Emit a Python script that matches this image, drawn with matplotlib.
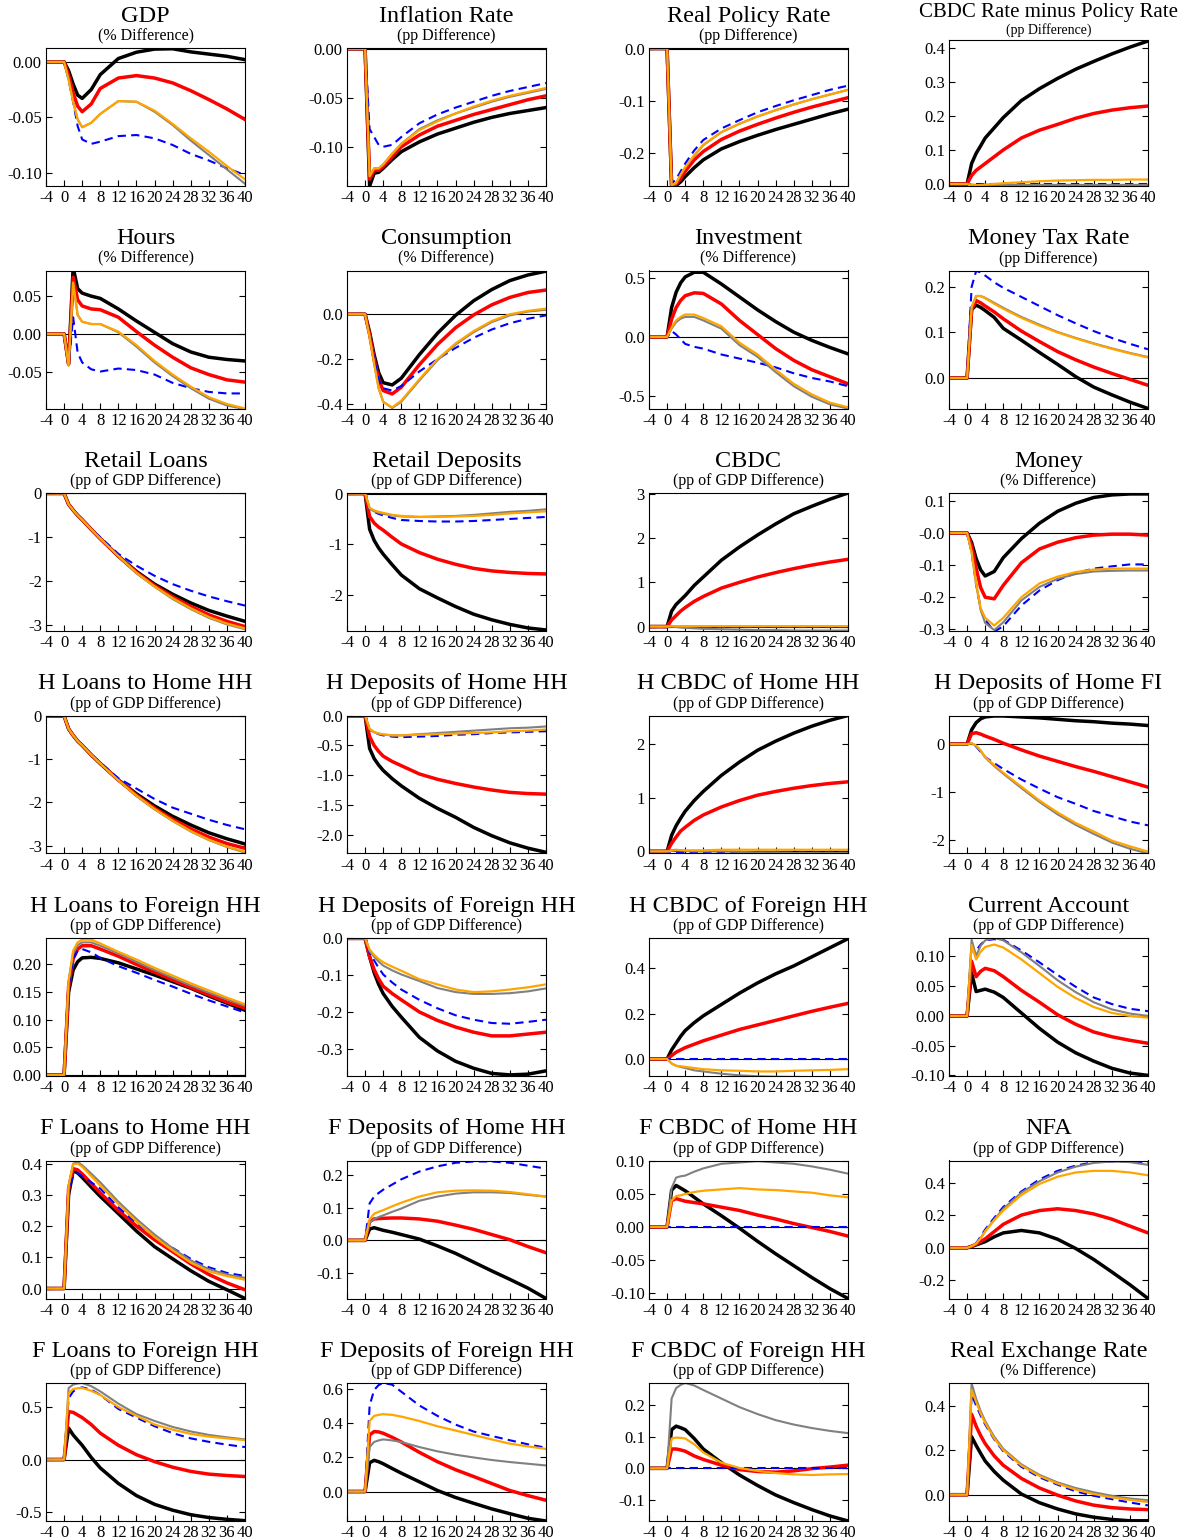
import matplotlib
matplotlib.use('Agg')
import matplotlib.pyplot as plt

plt.rcParams['font.family'] = ['Liberation Serif', 'DejaVu Serif']

quarters = [-4, 0, 1, 2, 3, 4, 6, 8, 12, 16, 20, 24, 28, 32, 36, 40]

# each panel: black, red, blue (dashed), gray, orange
gdp = [
    [0, 0, -0.008, -0.020, -0.030, -0.033, -0.025, -0.0115, 0.003, 0.0087, 0.0115, 0.0118, 0.009, 0.007, 0.005, 0.002],
    [0, 0, -0.012, -0.028, -0.040, -0.045, -0.038, -0.024, -0.0146, -0.0124, -0.0146, -0.019, -0.026, -0.034, -0.0425, -0.052],
    [0, 0, -0.016, -0.036, -0.058, -0.070, -0.074, -0.072, -0.067, -0.066, -0.069, -0.075, -0.083, -0.089, -0.096, -0.102],
    [0, 0, -0.016, -0.036, -0.052, -0.059, -0.055, -0.047, -0.0354, -0.036, -0.045, -0.057, -0.071, -0.084, -0.097, -0.110],
    [0, 0, -0.016, -0.036, -0.052, -0.059, -0.055, -0.047, -0.0354, -0.036, -0.044, -0.056, -0.069, -0.081, -0.094, -0.106],
]
inflation = [
    [0, 0, -0.140, -0.127, -0.126, -0.122, -0.113, -0.105, -0.095, -0.087, -0.081, -0.075, -0.070, -0.066, -0.063, -0.060],
    [0, 0, -0.133, -0.124, -0.124, -0.120, -0.110, -0.100, -0.088, -0.079, -0.073, -0.067, -0.062, -0.057, -0.052, -0.048],
    [0, 0, -0.082, -0.090, -0.098, -0.100, -0.098, -0.090, -0.076, -0.067, -0.060, -0.054, -0.048, -0.043, -0.039, -0.035],
    [0, 0, -0.130, -0.122, -0.122, -0.118, -0.107, -0.097, -0.082, -0.073, -0.066, -0.060, -0.054, -0.049, -0.045, -0.041],
    [0, 0, -0.130, -0.122, -0.122, -0.118, -0.107, -0.097, -0.083, -0.074, -0.066, -0.059, -0.053, -0.048, -0.044, -0.040],
]
real_policy = [
    [0, 0, -0.262, -0.262, -0.255, -0.245, -0.228, -0.213, -0.192, -0.178, -0.166, -0.155, -0.145, -0.135, -0.125, -0.116],
    [0, 0, -0.262, -0.260, -0.248, -0.235, -0.213, -0.197, -0.174, -0.158, -0.145, -0.133, -0.122, -0.112, -0.103, -0.094],
    [0, 0, -0.258, -0.250, -0.235, -0.220, -0.195, -0.175, -0.153, -0.137, -0.122, -0.110, -0.099, -0.089, -0.079, -0.071],
    [0, 0, -0.262, -0.258, -0.242, -0.228, -0.205, -0.185, -0.160, -0.144, -0.130, -0.118, -0.107, -0.097, -0.088, -0.079],
    [0, 0, -0.262, -0.257, -0.241, -0.227, -0.204, -0.184, -0.160, -0.144, -0.130, -0.118, -0.107, -0.097, -0.088, -0.079],
]
cbdc_spread = [
    [0, 0, 0.060, 0.090, 0.112, 0.135, 0.165, 0.195, 0.245, 0.280, 0.310, 0.337, 0.360, 0.382, 0.402, 0.420],
    [0, 0, 0.025, 0.040, 0.050, 0.060, 0.080, 0.100, 0.135, 0.158, 0.175, 0.193, 0.207, 0.217, 0.224, 0.229],
    [0, 0, 0, 0, 0, 0, 0, 0, 0, 0, 0, 0, 0, 0, 0, 0],
    [0, 0, -0.002, -0.003, -0.003, -0.003, -0.003, -0.003, -0.003, -0.003, -0.003, -0.003, -0.003, -0.003, -0.003, -0.003],
    [0, 0, -0.003, -0.004, -0.003, -0.002, 0.000, 0.002, 0.005, 0.008, 0.010, 0.011, 0.012, 0.012, 0.013, 0.013],
]
hours = [
    [0, 0, -0.040, 0.088, 0.060, 0.054, 0.050, 0.047, 0.033, 0.017, 0.002, -0.013, -0.024, -0.031, -0.034, -0.036],
    [0, 0, -0.040, 0.075, 0.045, 0.037, 0.033, 0.032, 0.022, 0.003, -0.015, -0.031, -0.045, -0.054, -0.061, -0.064],
    [0, 0, -0.040, 0.022, -0.025, -0.038, -0.047, -0.050, -0.046, -0.048, -0.054, -0.065, -0.072, -0.077, -0.079, -0.079],
    [0, 0, -0.042, 0.068, 0.025, 0.016, 0.013, 0.013, 0.002, -0.017, -0.038, -0.056, -0.072, -0.086, -0.095, -0.100],
    [0, 0, -0.042, 0.068, 0.025, 0.016, 0.013, 0.013, 0.003, -0.015, -0.036, -0.054, -0.070, -0.084, -0.093, -0.099],
]
consumption = [
    [0, 0, -0.080, -0.180, -0.260, -0.305, -0.315, -0.285, -0.180, -0.085, -0.005, 0.060, 0.110, 0.150, 0.175, 0.192],
    [0, 0, -0.090, -0.200, -0.290, -0.340, -0.355, -0.325, -0.225, -0.135, -0.060, -0.003, 0.042, 0.075, 0.097, 0.108],
    [0, 0, -0.090, -0.200, -0.290, -0.330, -0.340, -0.320, -0.255, -0.200, -0.150, -0.105, -0.068, -0.040, -0.020, -0.005],
    [0, 0, -0.100, -0.220, -0.330, -0.390, -0.418, -0.390, -0.295, -0.205, -0.135, -0.080, -0.035, -0.005, 0.012, 0.020],
    [0, 0, -0.100, -0.220, -0.330, -0.390, -0.415, -0.385, -0.290, -0.200, -0.130, -0.075, -0.030, 0.000, 0.015, 0.025],
]
investment = [
    [0, 0, 0.250, 0.380, 0.460, 0.510, 0.550, 0.550, 0.450, 0.340, 0.230, 0.130, 0.040, -0.030, -0.090, -0.145],
    [0, 0, 0.150, 0.250, 0.310, 0.350, 0.375, 0.370, 0.280, 0.140, 0.020, -0.100, -0.200, -0.280, -0.340, -0.400],
    [0, 0, 0.050, 0.020, -0.020, -0.060, -0.085, -0.100, -0.150, -0.185, -0.220, -0.260, -0.310, -0.350, -0.380, -0.420],
    [0, 0, 0.070, 0.125, 0.155, 0.170, 0.170, 0.140, 0.070, -0.070, -0.170, -0.300, -0.420, -0.510, -0.575, -0.610],
    [0, 0, 0.080, 0.140, 0.170, 0.190, 0.190, 0.160, 0.090, -0.050, -0.150, -0.280, -0.400, -0.490, -0.560, -0.600],
]
money_tax = [
    [0, 0, 0.150, 0.160, 0.155, 0.148, 0.133, 0.109, 0.083, 0.056, 0.030, 0.003, -0.020, -0.037, -0.053, -0.067],
    [0, 0, 0.150, 0.170, 0.165, 0.158, 0.145, 0.130, 0.103, 0.080, 0.058, 0.040, 0.024, 0.010, -0.003, -0.016],
    [0, 0, 0.200, 0.235, 0.232, 0.225, 0.210, 0.198, 0.178, 0.158, 0.138, 0.120, 0.103, 0.088, 0.075, 0.063],
    [0, 0, 0.155, 0.180, 0.180, 0.176, 0.165, 0.154, 0.134, 0.117, 0.101, 0.088, 0.076, 0.065, 0.055, 0.046],
    [0, 0, 0.155, 0.180, 0.180, 0.175, 0.163, 0.152, 0.132, 0.115, 0.100, 0.087, 0.075, 0.064, 0.054, 0.045],
]
retail_loans = [
    [0, 0, -0.25, -0.38, -0.50, -0.60, -0.82, -1.03, -1.43, -1.78, -2.07, -2.30, -2.50, -2.67, -2.80, -2.92],
    [0, 0, -0.25, -0.38, -0.50, -0.60, -0.82, -1.03, -1.43, -1.80, -2.10, -2.36, -2.58, -2.77, -2.92, -3.04],
    [0, 0, -0.25, -0.38, -0.50, -0.60, -0.82, -1.00, -1.38, -1.65, -1.88, -2.07, -2.22, -2.35, -2.46, -2.56],
    [0, 0, -0.25, -0.38, -0.50, -0.60, -0.82, -1.03, -1.43, -1.82, -2.13, -2.41, -2.64, -2.84, -2.99, -3.10],
    [0, 0, -0.25, -0.38, -0.50, -0.60, -0.82, -1.03, -1.43, -1.81, -2.12, -2.39, -2.62, -2.82, -2.97, -3.08],
]
retail_deposits = [
    [0, 0, -0.70, -0.92, -1.07, -1.19, -1.40, -1.60, -1.87, -2.05, -2.22, -2.37, -2.48, -2.57, -2.64, -2.68],
    [0, 0, -0.45, -0.58, -0.66, -0.72, -0.86, -0.99, -1.16, -1.29, -1.39, -1.47, -1.52, -1.55, -1.57, -1.58],
    [0, 0, -0.30, -0.36, -0.40, -0.43, -0.48, -0.52, -0.54, -0.55, -0.55, -0.54, -0.52, -0.50, -0.48, -0.46],
    [0, 0, -0.30, -0.35, -0.38, -0.40, -0.43, -0.45, -0.46, -0.45, -0.44, -0.42, -0.39, -0.36, -0.34, -0.31],
    [0, 0, -0.28, -0.33, -0.36, -0.38, -0.42, -0.44, -0.46, -0.46, -0.45, -0.44, -0.42, -0.39, -0.37, -0.35],
]
cbdc = [
    [0, 0, 0.35, 0.50, 0.60, 0.70, 0.93, 1.12, 1.50, 1.80, 2.07, 2.32, 2.55, 2.72, 2.88, 3.02],
    [0, 0, 0.15, 0.25, 0.35, 0.43, 0.57, 0.68, 0.87, 1.00, 1.12, 1.22, 1.31, 1.39, 1.46, 1.52],
    [0, 0, 0, 0, 0, 0, 0, 0, 0, 0, 0, 0, 0, 0, 0, 0],
    [0, 0, 0.00, -0.01, -0.02, -0.03, -0.04, -0.05, -0.06, -0.07, -0.08, -0.08, -0.09, -0.09, -0.09, -0.09],
    [0, 0, 0.01, 0.01, 0.01, 0.01, 0.01, 0.01, 0.01, 0.01, 0.01, 0.01, 0.01, 0.01, 0.01, 0.01],
]
money = [
    [0, 0, -0.030, -0.080, -0.115, -0.134, -0.120, -0.077, -0.018, 0.030, 0.067, 0.092, 0.110, 0.118, 0.121, 0.121],
    [0, 0, -0.040, -0.110, -0.170, -0.200, -0.205, -0.163, -0.093, -0.050, -0.029, -0.015, -0.007, -0.004, -0.004, -0.007],
    [0, 0, -0.060, -0.160, -0.235, -0.270, -0.307, -0.290, -0.226, -0.179, -0.147, -0.125, -0.111, -0.104, -0.098, -0.098],
    [0, 0, -0.060, -0.160, -0.240, -0.280, -0.302, -0.278, -0.210, -0.168, -0.143, -0.128, -0.120, -0.118, -0.117, -0.117],
    [0, 0, -0.060, -0.155, -0.235, -0.264, -0.288, -0.264, -0.200, -0.157, -0.136, -0.122, -0.114, -0.111, -0.111, -0.111],
]
h_loans_home = [
    [0, 0, -0.30, -0.45, -0.58, -0.68, -0.90, -1.10, -1.48, -1.80, -2.08, -2.32, -2.52, -2.70, -2.84, -2.96],
    [0, 0, -0.30, -0.45, -0.58, -0.68, -0.90, -1.10, -1.48, -1.83, -2.13, -2.39, -2.61, -2.80, -2.95, -3.06],
    [0, 0, -0.30, -0.45, -0.58, -0.68, -0.90, -1.08, -1.44, -1.68, -1.92, -2.12, -2.26, -2.40, -2.52, -2.62],
    [0, 0, -0.30, -0.45, -0.58, -0.68, -0.90, -1.10, -1.49, -1.85, -2.16, -2.43, -2.67, -2.87, -3.03, -3.16],
    [0, 0, -0.30, -0.45, -0.58, -0.68, -0.90, -1.10, -1.49, -1.84, -2.15, -2.42, -2.66, -2.86, -3.02, -3.14],
]
h_dep_home = [
    [0, 0, -0.55, -0.72, -0.83, -0.92, -1.06, -1.18, -1.39, -1.56, -1.71, -1.88, -2.02, -2.14, -2.23, -2.30],
    [0, 0, -0.35, -0.50, -0.60, -0.68, -0.77, -0.84, -0.98, -1.07, -1.14, -1.20, -1.25, -1.29, -1.31, -1.32],
    [0, 0, -0.23, -0.28, -0.31, -0.33, -0.35, -0.36, -0.35, -0.34, -0.32, -0.31, -0.29, -0.28, -0.27, -0.26],
    [0, 0, -0.23, -0.28, -0.30, -0.32, -0.33, -0.33, -0.31, -0.29, -0.27, -0.25, -0.23, -0.21, -0.20, -0.18],
    [0, 0, -0.22, -0.27, -0.30, -0.31, -0.33, -0.33, -0.32, -0.31, -0.30, -0.29, -0.28, -0.26, -0.25, -0.23],
]
h_cbdc_home = [
    [0, 0, 0.30, 0.48, 0.62, 0.75, 0.95, 1.12, 1.42, 1.67, 1.89, 2.06, 2.21, 2.34, 2.45, 2.54],
    [0, 0, 0.15, 0.27, 0.38, 0.45, 0.58, 0.68, 0.83, 0.95, 1.05, 1.12, 1.18, 1.23, 1.27, 1.30],
    [0, 0, -0.01, -0.01, -0.01, -0.01, -0.01, -0.01, -0.01, -0.01, -0.01, -0.01, -0.01, -0.01, -0.01, -0.01],
    [0, 0, 0.02, 0.03, 0.02, 0.01, 0.00, 0.00, 0.00, -0.01, -0.02, -0.02, -0.03, -0.03, -0.03, -0.03],
    [0, 0, 0.01, 0.02, 0.02, 0.02, 0.02, 0.02, 0.03, 0.03, 0.03, 0.03, 0.03, 0.03, 0.03, 0.03],
]
h_dep_fi = [
    [0, 0, 0.30, 0.45, 0.53, 0.57, 0.59, 0.59, 0.57, 0.55, 0.52, 0.49, 0.47, 0.44, 0.42, 0.39],
    [0, 0, 0.22, 0.24, 0.21, 0.17, 0.10, 0.02, -0.12, -0.25, -0.36, -0.47, -0.57, -0.68, -0.79, -0.90],
    [0, 0, 0.02, -0.05, -0.16, -0.27, -0.40, -0.52, -0.74, -0.93, -1.11, -1.25, -1.40, -1.51, -1.62, -1.70],
    [0, 0, 0.02, -0.04, -0.14, -0.28, -0.46, -0.62, -0.92, -1.21, -1.47, -1.69, -1.88, -2.06, -2.19, -2.29],
    [0, 0, 0.02, -0.03, -0.13, -0.27, -0.44, -0.60, -0.89, -1.18, -1.43, -1.65, -1.83, -2.02, -2.14, -2.25],
]
h_loans_foreign = [
    [0, 0, 0.150, 0.190, 0.205, 0.212, 0.213, 0.211, 0.203, 0.192, 0.181, 0.169, 0.157, 0.143, 0.130, 0.117],
    [0, 0, 0.160, 0.210, 0.228, 0.234, 0.234, 0.228, 0.215, 0.200, 0.186, 0.172, 0.158, 0.145, 0.132, 0.121],
    [0, 0, 0.160, 0.210, 0.225, 0.228, 0.222, 0.212, 0.197, 0.185, 0.172, 0.160, 0.147, 0.135, 0.124, 0.113],
    [0, 0, 0.170, 0.220, 0.235, 0.240, 0.240, 0.234, 0.220, 0.205, 0.190, 0.176, 0.162, 0.149, 0.137, 0.125],
    [0, 0, 0.170, 0.225, 0.240, 0.245, 0.245, 0.238, 0.223, 0.209, 0.194, 0.180, 0.166, 0.153, 0.140, 0.128],
]
h_dep_foreign = [
    [0, 0, -0.050, -0.093, -0.125, -0.150, -0.185, -0.214, -0.269, -0.306, -0.334, -0.353, -0.367, -0.371, -0.369, -0.360],
    [0, 0, -0.050, -0.085, -0.110, -0.130, -0.150, -0.167, -0.200, -0.223, -0.241, -0.255, -0.265, -0.265, -0.260, -0.255],
    [0, 0, -0.040, -0.060, -0.080, -0.098, -0.120, -0.139, -0.167, -0.190, -0.209, -0.221, -0.230, -0.232, -0.227, -0.221],
    [0, 0, -0.035, -0.050, -0.063, -0.074, -0.087, -0.098, -0.116, -0.135, -0.146, -0.151, -0.151, -0.149, -0.144, -0.136],
    [0, 0, -0.030, -0.045, -0.056, -0.065, -0.077, -0.088, -0.111, -0.125, -0.139, -0.146, -0.144, -0.139, -0.133, -0.125],
]
h_cbdc_foreign = [
    [0, 0, 0.040, 0.070, 0.100, 0.125, 0.160, 0.190, 0.240, 0.290, 0.335, 0.375, 0.410, 0.450, 0.490, 0.530],
    [0, 0, 0.015, 0.030, 0.040, 0.050, 0.065, 0.080, 0.105, 0.130, 0.150, 0.170, 0.190, 0.210, 0.228, 0.245],
    [0, 0, 0, 0, 0, 0, 0, 0, 0, 0, 0, 0, 0, 0, 0, 0],
    [0, 0, -0.020, -0.030, -0.035, -0.040, -0.050, -0.055, -0.065, -0.072, -0.076, -0.078, -0.079, -0.080, -0.080, -0.080],
    [0, 0, -0.020, -0.030, -0.032, -0.035, -0.040, -0.045, -0.050, -0.052, -0.055, -0.055, -0.052, -0.050, -0.048, -0.045],
]
current_account = [
    [0, 0, 0.072, 0.041, 0.043, 0.045, 0.040, 0.031, 0.005, -0.021, -0.044, -0.062, -0.076, -0.088, -0.096, -0.100],
    [0, 0, 0.092, 0.066, 0.075, 0.080, 0.076, 0.066, 0.043, 0.023, 0.002, -0.014, -0.027, -0.035, -0.041, -0.046],
    [0, 0, 0.115, 0.110, 0.120, 0.127, 0.129, 0.128, 0.110, 0.090, 0.069, 0.049, 0.031, 0.020, 0.012, 0.008],
    [0, 0, 0.128, 0.101, 0.118, 0.127, 0.131, 0.127, 0.107, 0.084, 0.060, 0.040, 0.023, 0.011, 0.004, 0.000],
    [0, 0, 0.119, 0.095, 0.108, 0.116, 0.120, 0.115, 0.095, 0.072, 0.049, 0.030, 0.015, 0.005, 0.000, -0.003],
]
f_loans_home = [
    [0, 0, 0.300, 0.378, 0.370, 0.356, 0.325, 0.295, 0.240, 0.184, 0.134, 0.095, 0.057, 0.023, -0.004, -0.032],
    [0, 0, 0.320, 0.384, 0.380, 0.367, 0.337, 0.306, 0.250, 0.200, 0.156, 0.118, 0.079, 0.045, 0.018, -0.004],
    [0, 0, 0.310, 0.360, 0.370, 0.360, 0.340, 0.320, 0.260, 0.210, 0.167, 0.130, 0.095, 0.068, 0.050, 0.040],
    [0, 0, 0.330, 0.400, 0.405, 0.395, 0.368, 0.340, 0.278, 0.223, 0.173, 0.129, 0.090, 0.062, 0.045, 0.034],
    [0, 0, 0.330, 0.398, 0.400, 0.390, 0.360, 0.330, 0.270, 0.215, 0.165, 0.122, 0.083, 0.055, 0.040, 0.028],
]
f_dep_home = [
    [0, 0, 0.035, 0.039, 0.035, 0.031, 0.025, 0.018, 0.004, -0.017, -0.040, -0.067, -0.094, -0.120, -0.147, -0.179],
    [0, 0, 0.058, 0.066, 0.067, 0.068, 0.069, 0.069, 0.066, 0.059, 0.047, 0.034, 0.018, 0.002, -0.019, -0.038],
    [0, 0, 0.114, 0.135, 0.146, 0.156, 0.172, 0.188, 0.212, 0.228, 0.239, 0.243, 0.243, 0.239, 0.230, 0.221],
    [0, 0, 0.055, 0.066, 0.072, 0.077, 0.088, 0.098, 0.122, 0.135, 0.144, 0.148, 0.148, 0.146, 0.140, 0.135],
    [0, 0, 0.065, 0.082, 0.088, 0.093, 0.105, 0.116, 0.135, 0.148, 0.153, 0.154, 0.153, 0.149, 0.142, 0.135],
]
f_cbdc_home = [
    [0, 0, 0.056, 0.063, 0.059, 0.055, 0.045, 0.035, 0.017, -0.002, -0.022, -0.041, -0.059, -0.077, -0.094, -0.109],
    [0, 0, 0.040, 0.043, 0.041, 0.039, 0.037, 0.035, 0.030, 0.025, 0.018, 0.012, 0.005, -0.001, -0.007, -0.014],
    [0, 0, 0, 0, 0, 0, 0, 0, 0, 0, 0, 0, 0, 0, 0, 0],
    [0, 0, 0.059, 0.075, 0.077, 0.078, 0.084, 0.089, 0.096, 0.098, 0.100, 0.098, 0.096, 0.092, 0.087, 0.081],
    [0, 0, 0.040, 0.047, 0.048, 0.050, 0.053, 0.055, 0.057, 0.059, 0.057, 0.056, 0.054, 0.052, 0.048, 0.045],
]
nfa = [
    [0, 0, 0.008, 0.018, 0.028, 0.038, 0.068, 0.092, 0.107, 0.092, 0.053, -0.004, -0.072, -0.149, -0.228, -0.313],
    [0, 0, 0.010, 0.022, 0.038, 0.055, 0.100, 0.145, 0.202, 0.230, 0.241, 0.230, 0.209, 0.177, 0.134, 0.092],
    [0, 0, 0.010, 0.028, 0.070, 0.113, 0.185, 0.252, 0.348, 0.422, 0.475, 0.507, 0.529, 0.533, 0.533, 0.524],
    [0, 0, 0.010, 0.025, 0.060, 0.102, 0.175, 0.241, 0.341, 0.411, 0.465, 0.501, 0.524, 0.533, 0.529, 0.512],
    [0, 0, 0.010, 0.025, 0.060, 0.102, 0.170, 0.230, 0.326, 0.394, 0.439, 0.465, 0.475, 0.475, 0.465, 0.448],
]
f_loans_foreign = [
    [0, 0, 0.300, 0.235, 0.185, 0.136, 0.020, -0.080, -0.228, -0.344, -0.427, -0.483, -0.526, -0.553, -0.570, -0.583],
    [0, 0, 0.457, 0.450, 0.425, 0.400, 0.334, 0.252, 0.136, 0.046, -0.020, -0.073, -0.113, -0.139, -0.152, -0.162],
    [0, 0, 0.583, 0.650, 0.675, 0.689, 0.666, 0.616, 0.483, 0.400, 0.318, 0.252, 0.202, 0.169, 0.142, 0.119],
    [0, 0, 0.682, 0.715, 0.725, 0.730, 0.700, 0.650, 0.533, 0.434, 0.368, 0.311, 0.268, 0.235, 0.212, 0.192],
    [0, 0, 0.632, 0.672, 0.680, 0.682, 0.656, 0.616, 0.500, 0.417, 0.334, 0.285, 0.245, 0.219, 0.202, 0.185],
]
f_dep_foreign = [
    [0, 0, 0.169, 0.183, 0.175, 0.163, 0.135, 0.108, 0.057, 0.006, -0.035, -0.069, -0.102, -0.130, -0.157, -0.173],
    [0, 0, 0.332, 0.352, 0.350, 0.342, 0.318, 0.291, 0.230, 0.175, 0.128, 0.088, 0.047, 0.006, -0.024, -0.051],
    [0, 0, 0.505, 0.596, 0.625, 0.637, 0.627, 0.586, 0.505, 0.444, 0.393, 0.352, 0.326, 0.301, 0.277, 0.257],
    [0, 0, 0.261, 0.291, 0.300, 0.306, 0.300, 0.291, 0.261, 0.236, 0.216, 0.200, 0.185, 0.173, 0.163, 0.153],
    [0, 0, 0.414, 0.444, 0.450, 0.454, 0.450, 0.440, 0.414, 0.383, 0.358, 0.332, 0.306, 0.281, 0.265, 0.250],
]
f_cbdc_foreign = [
    [0, 0, 0.122, 0.133, 0.128, 0.122, 0.094, 0.061, 0.018, -0.021, -0.054, -0.084, -0.108, -0.130, -0.150, -0.166],
    [0, 0, 0.061, 0.061, 0.058, 0.054, 0.039, 0.028, 0.010, -0.004, -0.010, -0.012, -0.008, -0.001, 0.004, 0.010],
    [0, 0, 0, 0, 0, 0, 0, 0, 0, 0, 0, 0, 0, 0, 0, 0],
    [0, 0, 0.220, 0.253, 0.263, 0.269, 0.261, 0.247, 0.220, 0.193, 0.171, 0.152, 0.138, 0.127, 0.118, 0.111],
    [0, 0, 0.094, 0.097, 0.096, 0.094, 0.076, 0.050, 0.018, 0.001, -0.008, -0.015, -0.019, -0.021, -0.019, -0.018],
]
rer = [
    [0, 0, 0.260, 0.221, 0.185, 0.151, 0.104, 0.065, 0.003, -0.036, -0.064, -0.086, -0.101, -0.111, -0.117, -0.117],
    [0, 0, 0.361, 0.307, 0.265, 0.229, 0.174, 0.132, 0.073, 0.030, -0.002, -0.028, -0.047, -0.058, -0.064, -0.067],
    [0, 0, 0.450, 0.400, 0.355, 0.315, 0.248, 0.195, 0.125, 0.078, 0.045, 0.015, -0.005, -0.020, -0.035, -0.048],
    [0, 0, 0.500, 0.430, 0.375, 0.330, 0.260, 0.206, 0.136, 0.089, 0.055, 0.030, 0.011, -0.005, -0.017, -0.025],
    [0, 0, 0.470, 0.416, 0.365, 0.322, 0.252, 0.200, 0.131, 0.084, 0.050, 0.023, 0.003, -0.012, -0.023, -0.033],
]

titles = ['GDP', 'Inflation Rate', 'Real Policy Rate', 'CBDC Rate minus Policy Rate',
          'Hours', 'Consumption', 'Investment', 'Money Tax Rate',
          'Retail Loans', 'Retail Deposits', 'CBDC', 'Money',
          'H Loans to Home HH', 'H Deposits of Home HH', 'H CBDC of Home HH', 'H Deposits of Home FI',
          'H Loans to Foreign HH', 'H Deposits of Foreign HH', 'H CBDC of Foreign HH', 'Current Account',
          'F Loans to Home HH', 'F Deposits of Home HH', 'F CBDC of Home HH', 'NFA',
          'F Loans to Foreign HH', 'F Deposits of Foreign HH', 'F CBDC of Foreign HH', 'Real Exchange Rate']
pct, pp, ppg = '(% Difference)', '(pp Difference)', '(pp of GDP Difference)'
subtitles = [pct, pp, pp, pp,
             pct, pct, pct, pp,
             ppg, ppg, ppg, pct,
             ppg, ppg, ppg, ppg,
             ppg, ppg, ppg, ppg,
             ppg, ppg, ppg, ppg,
             ppg, ppg, ppg, pct]

panels = [gdp, inflation, real_policy, cbdc_spread,
          hours, consumption, investment, money_tax,
          retail_loans, retail_deposits, cbdc, money,
          h_loans_home, h_dep_home, h_cbdc_home, h_dep_fi,
          h_loans_foreign, h_dep_foreign, h_cbdc_foreign, current_account,
          f_loans_home, f_dep_home, f_cbdc_home, nfa,
          f_loans_foreign, f_dep_foreign, f_cbdc_foreign, rer]

ytick_labels = [
    ['0.00', '-0.05', '-0.10'], ['0.00', '-0.05', '-0.10'], ['0.0', '-0.1', '-0.2'], ['0.4', '0.3', '0.2', '0.1', '0.0'],
    ['0.05', '0.00', '-0.05'], ['0.0', '-0.2', '-0.4'], ['0.5', '0.0', '-0.5'], ['0.2', '0.1', '0.0'],
    ['0', '-1', '-2', '-3'], ['0', '-1', '-2'], ['3', '2', '1', '0'], ['0.1', '-0.0', '-0.1', '-0.2', '-0.3'],
    ['0', '-1', '-2', '-3'], ['0.0', '-0.5', '-1.0', '-1.5', '-2.0'], ['2', '1', '0'], ['0', '-1', '-2'],
    ['0.20', '0.15', '0.10', '0.05', '0.00'], ['0.0', '-0.1', '-0.2', '-0.3'], ['0.4', '0.2', '0.0'],
    ['0.10', '0.05', '0.00', '-0.05', '-0.10'],
    ['0.4', '0.3', '0.2', '0.1', '0.0'], ['0.2', '0.1', '0.0', '-0.1'], ['0.10', '0.05', '0.00', '-0.05', '-0.10'],
    ['0.4', '0.2', '0.0', '-0.2'],
    ['0.5', '0.0', '-0.5'], ['0.6', '0.4', '0.2', '0.0'], ['0.2', '0.1', '0.0', '-0.1'], ['0.4', '0.2', '0.0'],
]
ylims = [
    (-0.112, 0.0125), (-0.140, 0.0008), (-0.263, 0.001), (-0.006, 0.423),
    (-0.099, 0.084), (-0.42, 0.195), (-0.61, 0.565), (-0.067, 0.236),
    (-3.14, 0.01), (-2.70, 0.01), (-0.10, 3.02), (-0.305, 0.124),
    (-3.18, 0.01), (-2.32, 0.005), (-0.04, 2.54), (-2.29, 0.60),
    (-0.002, 0.248), (-0.374, 0.001), (-0.075, 0.533), (-0.101, 0.131),
    (-0.032, 0.41), (-0.179, 0.246), (-0.109, 0.101), (-0.313, 0.539),
    (-0.586, 0.73), (-0.173, 0.637), (-0.166, 0.269), (-0.118, 0.501),
]

colors = ['black', 'red', 'blue', 'gray', 'orange']
widths = [2.5, 2.5, 1.5, 1.5, 1.6]
styles = ['-', '-', (0, (4, 2.5)), '-', '-']

W, H = 1185, 1540
fig = plt.figure(figsize=(W / 100, H / 100), dpi=100)
col_left = [46, 347, 649, 949]

for i, series in enumerate(panels):
    r, c = divmod(i, 4)
    top = 48 + 222.5 * r
    bottom = top + 138
    if i == 3:
        top = 40
    ax = fig.add_axes([col_left[c] / W, 1 - bottom / H, 199 / W, (bottom - top) / H])
    ax.axhline(0, color='black', lw=0.8, zorder=1)
    for vals, col, lw, ls in zip(series, colors, widths, styles):
        ax.plot(quarters, vals, color=col, lw=lw, ls=ls, zorder=2)
    ax.set_xlim(-4, 40)
    ax.set_ylim(*ylims[i])
    ax.set_xticks(range(-4, 41, 4))
    ax.set_xticklabels([str(t) for t in range(-4, 41, 4)])
    labs = ytick_labels[i]
    ax.set_yticks([float(s) for s in labs])
    ax.set_yticklabels(labs)
    ax.tick_params(direction='in', length=4, width=0.8, labelsize=12,
                   left=True, right=True, top=False, bottom=True, pad=3)
    for s in ax.spines.values():
        s.set_linewidth(0.8)
    if i == 3:
        ax.annotate(titles[i], xy=(0.5, 1), xycoords='axes fraction', xytext=(0, 20),
                    textcoords='offset points', ha='center', va='center', fontsize=15)
        ax.annotate(subtitles[i], xy=(0.5, 1), xycoords='axes fraction', xytext=(0, 7.2),
                    textcoords='offset points', ha='center', va='center', fontsize=10)
    else:
        ax.annotate(titles[i], xy=(0.5, 1), xycoords='axes fraction', xytext=(0, 23),
                    textcoords='offset points', ha='center', va='center', fontsize=17.5)
        ax.annotate(subtitles[i], xy=(0.5, 1), xycoords='axes fraction', xytext=(0, 8.6),
                    textcoords='offset points', ha='center', va='center', fontsize=11.5)

fig.savefig('out.png', dpi=100)
